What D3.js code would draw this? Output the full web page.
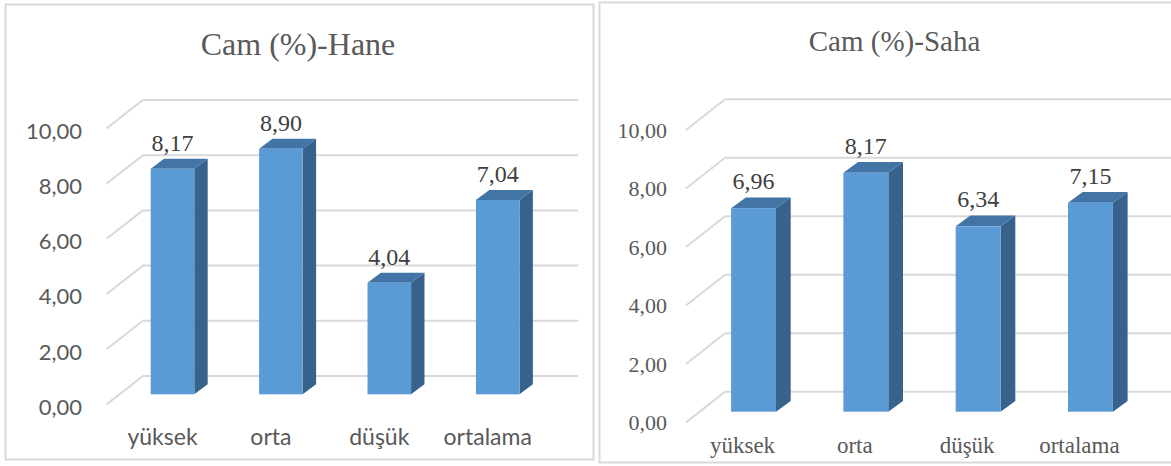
<!DOCTYPE html>
<html>
<head>
<meta charset="utf-8">
<script src="https://cdn.jsdelivr.net/npm/d3@7"></script>
<style>
  html, body { margin: 0; padding: 0; background: #ffffff; }
  svg { display: block; }
  .serif { font-family: "Liberation Serif", "Times New Roman", Times, serif; }
  .sans { font-family: Lato, "Open Sans", sans-serif; }
</style>
</head>
<body>
<svg id="chart" width="1171" height="466"></svg>
<script>
// Glass share (%) by income group, household vs. field survey
const categories = ["yüksek", "orta", "düşük", "ortalama"];
const haneValues = [8.17, 8.90, 4.04, 7.04];
const sahaValues = [6.96, 8.17, 6.34, 7.15];
const yTicks = [0, 2, 4, 6, 8, 10];
const titles = ["Cam (%)-Hane", "Cam (%)-Saha"];

const fmt = v => d3.format(".2f")(v).replace(".", ",");

const svg = d3.select("#chart");

const colors = {
  front: "#5B9BD5",
  top: "#4274A6",
  side: "#37628C",
  grid: "#D9D9D9",
  text: "#595959",
  value: "#404040",
  border: "#D9D9D9"
};

// Layout of the two chart panels
const panels = [
  {
    title: titles[0], values: haneValues,
    box: [5, 4, 588, 455],
    titleX: 298, titleY: 55, titleSize: 32,
    wallX: [143, 578], wallY: [376, 100], floorDx: -36.5, floorDy: 28.4,
    frontShift: 18.3, band: [118.3, 551.9], pad: 0.598,
    barDx: 13.4, barDy: -10,
    tickX: 82, tickClass: "sans", tickSize: 22, tickDy: 31,
    catClass: "sans", catSize: 23, catY: 445, catShift: -10,
    valSize: 24, valDy: -18
  },
  {
    title: titles[1], values: sahaValues,
    box: [599, 2, 580, 460],
    titleX: 894.5, titleY: 51, titleSize: 29,
    wallX: [725, 1175], wallY: [391.7, 99.3], floorDx: -39, floorDy: 30.7,
    frontShift: 20, band: [697.4, 1146.6], pad: 0.6,
    barDx: 14.7, barDy: -10.7,
    tickX: 667, tickClass: "serif", tickSize: 22, tickDy: 31,
    catClass: "serif", catSize: 23, catY: 453, catShift: -11,
    valSize: 24, valDy: -19
  }
];

panels.forEach(p => {
  const g = svg.append("g");

  // panel frame
  g.append("rect")
    .attr("x", p.box[0] + 0.5).attr("y", p.box[1] + 0.5)
    .attr("width", p.box[2]).attr("height", p.box[3])
    .attr("fill", "#ffffff")
    .attr("stroke", colors.border).attr("stroke-width", 2);

  // title
  g.append("text")
    .attr("class", "serif")
    .attr("x", p.titleX).attr("y", p.titleY)
    .attr("text-anchor", "middle")
    .style("font-size", p.titleSize + "px")
    .attr("fill", colors.text)
    .text(p.title);

  const y = d3.scaleLinear().domain([0, 10]).range(p.wallY);
  const x = d3.scaleBand().domain(categories).range(p.band)
    .paddingInner(p.pad).paddingOuter(p.pad / 2);

  // back-wall gridlines plus their floor/side diagonals
  const grid = g.append("g");
  yTicks.forEach(t => {
    const yy = y(t);
    grid.append("line")
      .attr("x1", p.wallX[0]).attr("y1", yy)
      .attr("x2", p.wallX[1]).attr("y2", yy)
      .attr("stroke", colors.grid).attr("stroke-width", 2);
    grid.append("line")
      .attr("x1", p.wallX[0]).attr("y1", yy)
      .attr("x2", p.wallX[0] + p.floorDx).attr("y2", yy + p.floorDy)
      .attr("stroke", colors.grid).attr("stroke-width", 2);
  });

  // y tick labels
  g.append("g").selectAll("text").data(yTicks).join("text")
    .attr("class", p.tickClass)
    .attr("x", p.tickX)
    .attr("y", d => y(d) + p.tickDy)
    .attr("dy", "0.35em")
    .attr("text-anchor", "end")
    .style("font-size", p.tickSize + "px")
    .attr("fill", colors.text)
    .text(fmt);

  // 3D columns: front face, top face and right side
  const data = categories.map((c, i) => ({ c, v: p.values[i] }));
  const bars = g.append("g").selectAll("g").data(data).join("g");
  const fy = v => y(v) + p.frontShift;
  const w = x.bandwidth();

  bars.append("path")
    .attr("fill", colors.side)
    .attr("d", d => {
      const x1 = x(d.c) + w, yt = fy(d.v), yb = fy(0);
      return `M${x1},${yt} L${x1 + p.barDx},${yt + p.barDy} L${x1 + p.barDx},${yb + p.barDy} L${x1},${yb} Z`;
    });
  bars.append("path")
    .attr("fill", colors.top)
    .attr("d", d => {
      const x0 = x(d.c), x1 = x0 + w, yt = fy(d.v);
      return `M${x0},${yt} L${x0 + p.barDx},${yt + p.barDy} L${x1 + p.barDx},${yt + p.barDy} L${x1},${yt} Z`;
    });
  bars.append("rect")
    .attr("fill", colors.front)
    .attr("x", d => x(d.c))
    .attr("y", d => fy(d.v))
    .attr("width", w)
    .attr("height", d => fy(0) - fy(d.v));

  // value labels
  bars.append("text")
    .attr("class", "serif")
    .attr("x", d => x(d.c) + w / 2)
    .attr("y", d => fy(d.v) + p.valDy)
    .attr("text-anchor", "middle")
    .style("font-size", p.valSize + "px")
    .attr("fill", colors.value)
    .text(d => fmt(d.v));

  // category labels
  g.append("g").selectAll("text").data(categories).join("text")
    .attr("class", p.catClass)
    .attr("x", d => x(d) + w / 2 + p.catShift)
    .attr("y", p.catY)
    .attr("text-anchor", "middle")
    .style("font-size", p.catSize + "px")
    .attr("fill", colors.text)
    .text(d => d);
});
</script>
</body>
</html>
